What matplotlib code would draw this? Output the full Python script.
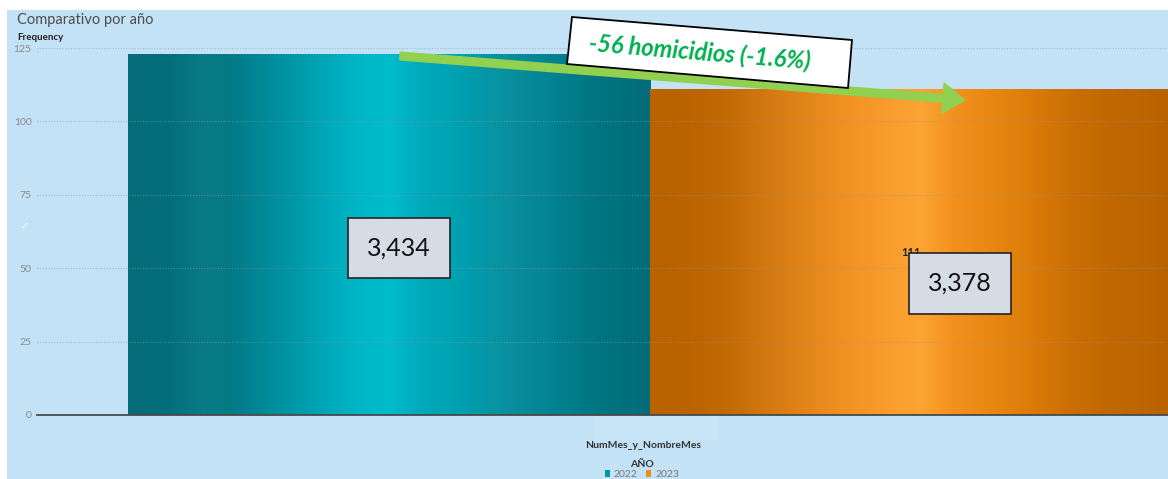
import numpy as np
import matplotlib.pyplot as plt
from matplotlib.colors import LinearSegmentedColormap
from matplotlib.patches import Rectangle, Polygon, FancyArrowPatch

plt.rcParams['font.family'] = ['Lato', 'DejaVu Sans']

# datos
years = ['2022', '2023']
frequency = [123, 111]
totals = ['3,434', '3,378']
y_ticks = [0, 25, 50, 75, 100, 125]
cambio = '-56 homicidios (-1.6%)'
legend_colors = ['#0097a8', '#f08c1c']

W, H = 1168, 479


def fx(px):
    return px / W


def fy(py):
    return 1 - py / H


# degradados tipo "cilindro" de cada barra
teal_stops = [(0.00, '#056d78'), (0.08, '#026f7c'), (0.14, '#0a7b86'), (0.20, '#047a88'),
              (0.28, '#008e9e'), (0.36, '#00a3b3'), (0.44, '#00b6c6'), (0.50, '#00bccc'),
              (0.56, '#00aabb'), (0.64, '#00a0b0'), (0.72, '#0a909f'), (0.80, '#048494'),
              (0.90, '#007482'), (1.00, '#036d79')]
orange_stops = [(0.00, '#b86200'), (0.10, '#bc6502'), (0.16, '#c46c06'), (0.22, '#d27810'),
                (0.30, '#e3861a'), (0.38, '#f29224'), (0.46, '#f99d2e'), (0.52, '#fca434'),
                (0.58, '#f3911e'), (0.64, '#ea8a14'), (0.72, '#dd7e0a'), (0.80, '#cc7004'),
                (0.88, '#c06802'), (1.00, '#b86200')]
cmaps = [LinearSegmentedColormap.from_list('teal', teal_stops),
         LinearSegmentedColormap.from_list('orng', orange_stops)]

fig = plt.figure(figsize=(11.68, 4.79), dpi=100)
fig.patch.set_facecolor('white')
# panel azul claro
fig.patches.append(Rectangle((fx(7), 0), 1 - fx(7), fy(10), transform=fig.transFigure,
                             facecolor='#c3e2f6', edgecolor='none', zorder=-2))
fig.patches.append(Rectangle((fx(595), fy(440)), fx(718) - fx(595), fy(416) - fy(440),
                             transform=fig.transFigure, facecolor='#c8e5f8',
                             edgecolor='none', zorder=-1))

ax = fig.add_axes([fx(37), fy(415), 1 - fx(37), (415 - 48) / H])
ax.patch.set_alpha(0)

x = np.arange(len(years))
bars = ax.bar(x, frequency, width=1.0, color=legend_colors, zorder=2)

grad = np.linspace(0, 1, 256).reshape(1, -1)
for bar, cm in zip(bars, cmaps):
    x0, w, h = bar.get_x(), bar.get_width(), bar.get_height()
    im = ax.imshow(grad, cmap=cm, extent=[x0, x0 + w, 0, h], aspect='auto', zorder=2.1)
    im.set_clip_path(bar)

# la etiqueta de 2022 queda tapada por la caja, solo se ve la de 2023
ax.text(x[1], frequency[1] / 2, str(frequency[1]), ha='center', va='center', fontsize=8,
        fontweight='bold', color='#222222', zorder=3)

ax.set_xlim(-0.674, 1.492)
ax.set_ylim(0, 125)
ax.set_xticks([])
ax.set_yticks(y_ticks)
ax.tick_params(axis='y', length=0, pad=4, labelsize=7.5, labelcolor='#8a8a8a')
ax.yaxis.grid(True, linestyle=(0, (1, 1.5)), color='#8f9aa3', linewidth=0.8, alpha=0.55)
ax.set_axisbelow(False)
for s in ['top', 'right', 'left']:
    ax.spines[s].set_visible(False)
ax.spines['bottom'].set_color('#4a4a4a')
ax.spines['bottom'].set_linewidth(1.3)
ax.spines['bottom'].set_zorder(3)

# textos
fig.text(fx(17), fy(20), 'Comparativo por año', ha='left', va='center',
         fontsize=10.5, color='#4d4d4d')
fig.text(fx(17), fy(37), 'Frequency', ha='left', va='center', fontsize=7,
         fontweight='bold', color='#222222')
fig.text(fx(25), fy(226), '✓', ha='center', va='center', fontsize=7, color='white',
         family='DejaVu Sans')
fig.text(fx(643), fy(446), 'NumMes_y_NombreMes', ha='center', va='center',
         fontsize=7.5, fontweight='bold', color='#333333')

# cajas con totales
box = dict(boxstyle='square,pad=0.75', fc='#d6dce5', ec='#222222', lw=1.2)
fig.text(fx(399), fy(248), totals[0], ha='center', va='center', fontsize=18,
         color='#111111', bbox=box, zorder=5)
fig.text(fx(960), fy(283.5), totals[1], ha='center', va='center', fontsize=18,
         color='#111111', bbox=box, zorder=5)

# flecha verde
arrow = FancyArrowPatch((fx(400), fy(56)), (fx(965), fy(100)), transform=fig.transFigure,
                        arrowstyle='simple,head_length=0.8,head_width=1.1,tail_width=0.28',
                        mutation_scale=20, color='#92d050', shrinkA=0, shrinkB=0, zorder=3)
fig.patches.append(arrow)

# caja girada con la diferencia
corners = [(572, 17), (852, 40), (848, 88), (567, 64)]
fig.patches.append(Polygon([(fx(a), fy(b)) for a, b in corners], closed=True,
                           transform=fig.transFigure, facecolor='white',
                           edgecolor='black', lw=1.3, zorder=4))
fig.text(fx(700), fy(52), cambio, ha='center', va='center', rotation=-4.7,
         rotation_mode='anchor', fontsize=17, fontweight='bold', fontstyle='italic',
         color='#00b050', zorder=6)

# leyenda
leg = fig.legend(bars, years, title='AÑO', loc='upper center',
                 bbox_to_anchor=(fx(642), fy(460)), ncol=2, frameon=False,
                 fontsize=7.5, title_fontsize=7.5, handlelength=0.5, handleheight=0.6,
                 handletextpad=0.4, columnspacing=0.8, labelcolor='#777777',
                 borderaxespad=0, borderpad=0, labelspacing=0.1)
leg.get_title().set_fontweight('bold')
leg.get_title().set_color('#333333')

fig.savefig('out.png', dpi=100, facecolor=fig.get_facecolor())
